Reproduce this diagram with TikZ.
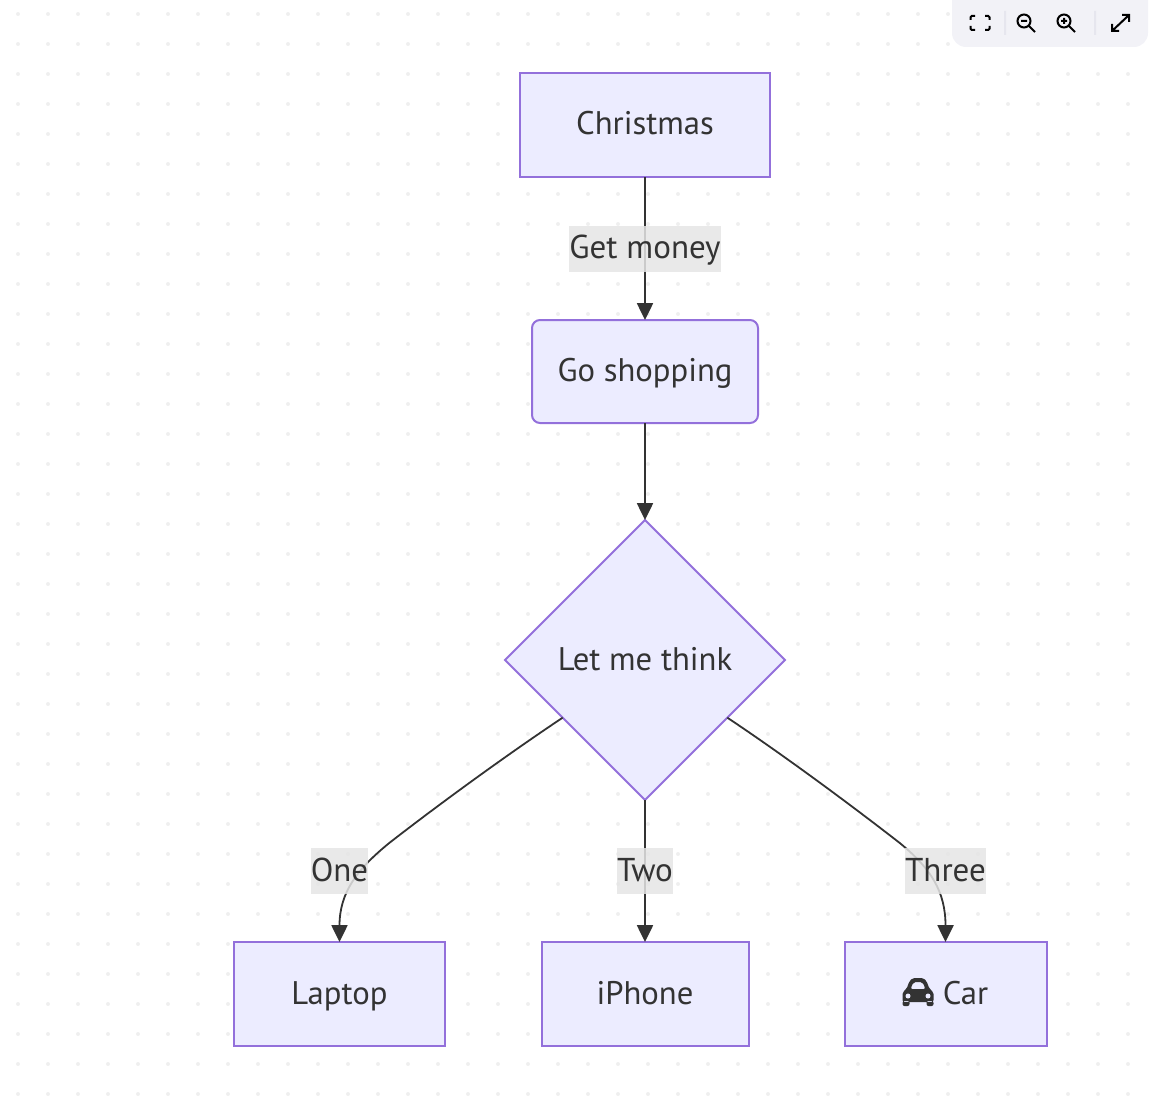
\documentclass[tikz,border=0pt]{standalone}
\usepackage{fontspec}
\setmainfont{PT Sans}
\usepackage{xcolor}
\usetikzlibrary{arrows.meta,positioning,shapes.geometric}
\definecolor{nodefill}{HTML}{ECECFF}
\definecolor{nodeline}{HTML}{9370DB}
\definecolor{ink}{HTML}{333333}
\definecolor{griddot}{HTML}{EFEFEF}
\definecolor{barfill}{HTML}{F2F2F7}
\definecolor{bardiv}{HTML}{E6E6EE}
\begin{document}
\begin{tikzpicture}[
  x=0.25mm, y=-0.25mm,
  box/.style={draw=nodeline, fill=nodefill, text=ink, line width=0.5mm, minimum height=26mm, inner sep=0pt, outer sep=0pt, text height=7mm, text depth=2mm, font=\fontsize{23.25pt}{28pt}\selectfont},
  choice/.style={box, shape=diamond, aspect=1, minimum width=70mm, minimum height=70mm},
  lab/.style={fill=black!10, fill opacity=0.85, text opacity=1, text=ink, inner xsep=0pt, inner ysep=0pt, outer sep=0pt, minimum height=11.5mm, text height=7mm, text depth=2mm, font=\fontsize{23.5pt}{28pt}\selectfont},
  arr/.style={-{Triangle[length=4.2mm,width=4mm]}, line width=0.45mm, draw=ink},
  tool/.style={draw=black, line width=0.5mm}
]
\useasboundingbox (0,0) rectangle (1153,1099);
\foreach \x in {18,48,...,1128} \foreach \y in {14,44,...,1094} \fill[griddot] (\x,\y) circle (2);
\node[box, minimum width=62.5mm] (christmas) at (645,125) {Christmas};
\node[box, minimum width=56.5mm, minimum height=25.75mm, rounded corners=2mm, below=35.75mm of christmas] (shopping) {Go shopping};
\node[choice, below=24.25mm of shopping] (think) {Let me think};
\node[box, minimum width=51.75mm, below=35.5mm of think] (iphone) {iPhone};
\node[box, minimum width=52.5mm, left=24.25mm of iphone] (laptop) {Laptop};
\node[box, minimum width=50.5mm, right=24mm of iphone] (car) {\hspace*{10mm}Car};
\fill[ink, even odd rule, rounded corners=0.5mm, shift={(car.center)}]
  (-43,8) -- (-43,-2) -- (-39,-5) -- (-36,-13) -- (-33,-16) -- (-22,-16) -- (-19,-13) -- (-16,-5) -- (-12,-2) -- (-12,8) -- cycle
  (-35,-5) -- (-32,-12) -- (-23,-12) -- (-20,-5) -- cycle
  (-43,7) rectangle (-36,12)
  (-19,7) rectangle (-12,12);
\fill[nodefill, shift={(car.center)}] (-37.5,2) circle (2.5) (-17.5,2) circle (2.5);
\draw[arr] (christmas.south) -- node[lab] (getmoney) {Get money} (shopping.north);
\draw[arr] (shopping.south) -- (think.north);
\draw[arr] (think.south) -- (iphone.north);
\draw[arr] (think.215.7) .. controls +(-60,40) and +(45,-35) .. +(-173,125) .. controls +(-32,26) and +(0,-50) .. (laptop.north);
\draw[arr] (think.-35.4) .. controls +(60,40) and +(-45,-35) .. +(172,125) .. controls +(32,26) and +(0,-50) .. (car.north);
\node[lab, above=12mm of laptop] (one) {One};
\node[lab, above=12mm of iphone] (two) {Two};
\node[lab, above=12mm of car] (three) {Three};
\fill[barfill, rounded corners=3.5mm] (952,-20) rectangle (1148,47);
\draw[tool, rounded corners=0.3mm] (975,16) -- (970.5,16) -- (970.5,20) (985,16) -- (989.5,16) -- (989.5,20) (970.5,26) -- (970.5,30) -- (975,30) (989.5,26) -- (989.5,30) -- (985,30);
\fill[bardiv] (1004,11) rectangle (1006,35) (1094,11) rectangle (1096,35);
\draw[tool] (1024,21) circle (6.5) (1029,26) -- (1035,32) (1021,21) -- (1027,21);
\draw[tool] (1064,21) circle (6.5) (1069,26) -- (1075,32) (1061,21) -- (1067,21) (1064,18) -- (1064,24);
\draw[tool] (1112,31) -- (1129,15) (1112,24) -- (1112,31) -- (1119,31) (1122,15) -- (1129,15) -- (1129,22);
\end{tikzpicture}
\end{document}
